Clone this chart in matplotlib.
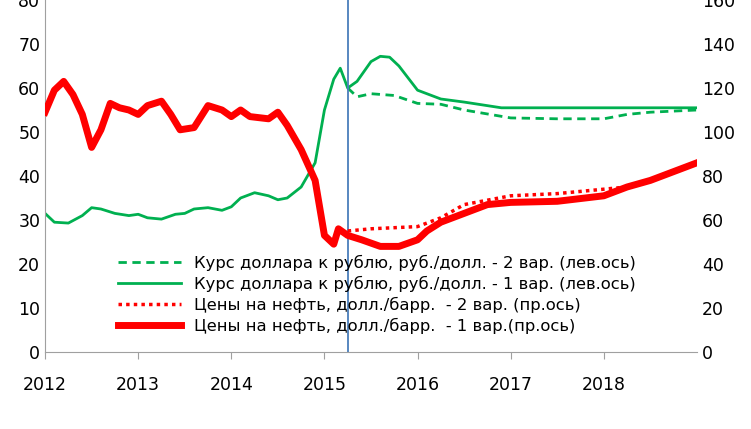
import matplotlib
matplotlib.use("Agg")
import matplotlib.pyplot as plt

# Курс доллара, 1 вар. (левая ось)
usd1_x = [2012.0, 2012.1, 2012.25, 2012.4, 2012.5, 2012.6, 2012.75, 2012.9, 2013.0, 2013.1, 2013.25,
          2013.4, 2013.5, 2013.6, 2013.75, 2013.9, 2014.0, 2014.1, 2014.25, 2014.4, 2014.5, 2014.6,
          2014.75, 2014.9, 2015.0, 2015.1, 2015.17, 2015.25, 2015.35, 2015.5, 2015.6, 2015.7, 2015.8,
          2016.0, 2016.25, 2016.5, 2016.9, 2017.5, 2018.0, 2018.5, 2019.0]
usd1_y = [31.5, 29.5, 29.3, 31, 32.8, 32.5, 31.5, 31, 31.3, 30.5, 30.2,
          31.3, 31.5, 32.5, 32.8, 32.2, 33, 35, 36.2, 35.5, 34.6, 35,
          37.5, 43, 55, 62, 64.5, 60, 61.5, 66, 67.2, 67, 65,
          59.5, 57.5, 56.8, 55.5, 55.5, 55.5, 55.5, 55.5]

# Курс доллара, 2 вар.
usd2_x = [2015.25, 2015.35, 2015.5, 2015.75, 2016.0, 2016.25, 2016.5, 2017.0, 2017.5, 2018.0, 2018.25, 2018.5, 2019.0]
usd2_y = [60, 58, 58.7, 58.3, 56.5, 56.3, 55, 53.2, 53, 53, 54, 54.5, 55]

# Цены на нефть, 1 вар. (правая ось)
oil1_x = [2012.0, 2012.1, 2012.2, 2012.3, 2012.4, 2012.5, 2012.6, 2012.7, 2012.8, 2012.9, 2013.0, 2013.1,
          2013.25, 2013.35, 2013.45, 2013.6, 2013.75, 2013.9, 2014.0, 2014.1, 2014.2, 2014.4, 2014.5,
          2014.6, 2014.75, 2014.9, 2015.0, 2015.1, 2015.15, 2015.25, 2015.4, 2015.6, 2015.8, 2016.0,
          2016.1, 2016.25, 2016.5, 2016.75, 2017.0, 2017.5, 2018.0, 2018.25, 2018.5, 2019.0]
oil1_y = [109, 119, 123, 117, 108, 93, 101, 113, 111, 110, 108, 112,
          114, 108, 101, 102, 112, 110, 107, 110, 107, 106, 109,
          103, 92, 78, 53, 49, 56, 53, 51, 48, 48, 51,
          55, 59, 63, 67, 68, 68.5, 71, 75, 78, 86]

# Цены на нефть, 2 вар.
oil2_x = [2015.25, 2015.5, 2016.0, 2016.25, 2016.5, 2016.75, 2017.0, 2017.5, 2018.0, 2018.25]
oil2_y = [55, 56, 57, 61, 67, 69, 71, 72, 74, 75]

fig = plt.figure(figsize=(7.51, 4.29), dpi=100)
ax = fig.add_axes([0.06, 0.1795, 0.868, 0.8205])
ax2 = ax.twinx()

green = "#00B050"
red = "#FF0000"
l1, = ax.plot(usd2_x, usd2_y, color=green, lw=2, ls=(0, (3, 2)),
              label="Курс доллара к рублю, руб./долл. - 2 вар. (лев.ось)")
l2, = ax.plot(usd1_x, usd1_y, color=green, lw=2,
              label="Курс доллара к рублю, руб./долл. - 1 вар. (лев.ось)")
l3, = ax2.plot(oil2_x, oil2_y, color=red, lw=2.5, ls=(0, (1, 1.2)),
               label="Цены на нефть, долл./барр.  - 2 вар. (пр.ось)")
l4, = ax2.plot(oil1_x, oil1_y, color=red, lw=5,
               label="Цены на нефть, долл./барр.  - 1 вар.(пр.ось)")
ax.axvline(2015.25, color="#4A7EBB", lw=1.3)

ax.set_xlim(2012, 2019)
ax.set_ylim(0, 80)
ax2.set_ylim(0, 160)
ax.set_xticks(range(2012, 2019))
ax.set_yticks(range(0, 81, 10))
ax2.set_yticks(range(0, 161, 20))
for a in (ax, ax2):
    for s in a.spines.values():
        s.set_visible(False)
    a.tick_params(labelsize=12.5, length=0)
ax.spines["bottom"].set_visible(True)
ax.spines["bottom"].set_color("#A0A0A0")
ax.spines["left"].set_visible(True)
ax.spines["left"].set_color("#A0A0A0")
ax.tick_params(axis="x", pad=12, length=5, color="#A0A0A0", direction="out")

ax.legend(handles=[l1, l2, l3, l4], loc="lower left", bbox_to_anchor=(0.09, 0.01),
          frameon=False, fontsize=11.8, handlelength=3.8, labelspacing=0.3)

fig.savefig("out.png", dpi=100)
